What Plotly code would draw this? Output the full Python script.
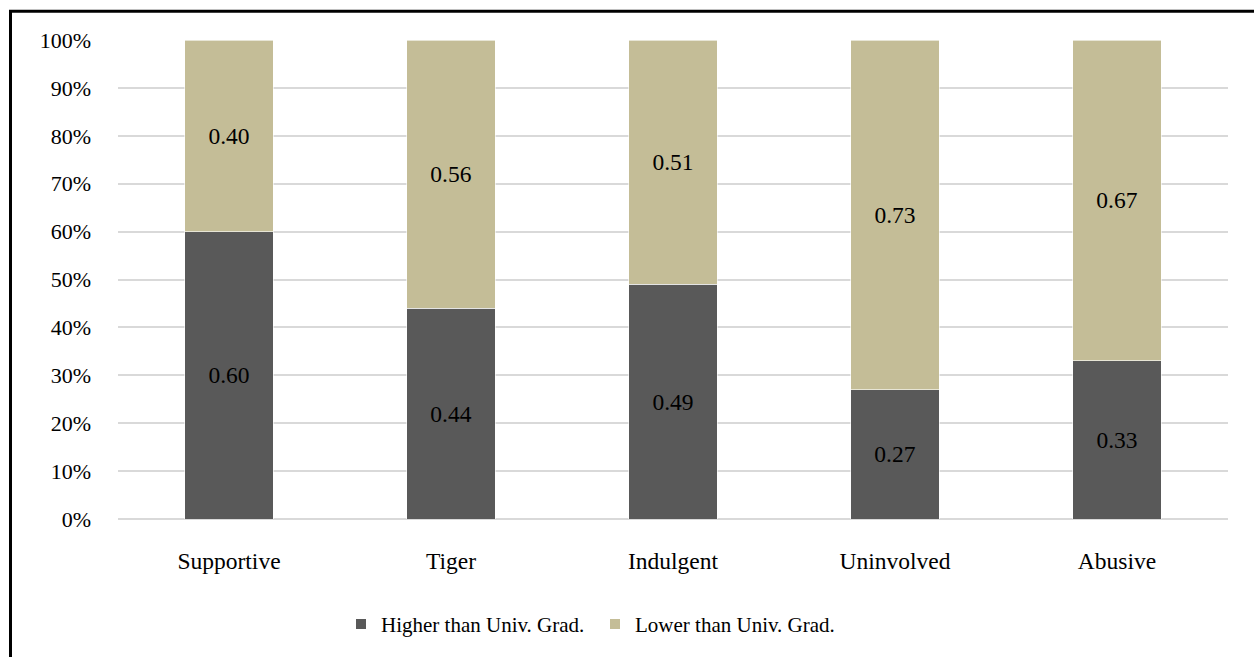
import plotly.graph_objects as go

# Parenting styles and share of parents by education level
categories = ["Supportive", "Tiger", "Indulgent", "Uninvolved", "Abusive"]
higher_than_grad = [0.60, 0.44, 0.49, 0.27, 0.33]
lower_than_grad = [0.40, 0.56, 0.51, 0.73, 0.67]
y_ticks = [0.0, 0.1, 0.2, 0.3, 0.4, 0.5, 0.6, 0.7, 0.8, 0.9, 1.0]

FONT = "Liberation Serif, Times New Roman, serif"
W, H = 1254, 657
L, R, T, B = 118, 26, 40, 135
PW, PH = W - L - R, H - T - B


def px_x(x):
    return (x - L) / PW


def px_y(y):
    return (H - B - y) / PH


fig = go.Figure()
fig.add_trace(go.Bar(
    x=categories, y=higher_than_grad, name="Higher than Univ. Grad.",
    marker=dict(color="#595959", line=dict(color="#ffffff", width=0.6)),
    text=[f"{v:.2f}" for v in higher_than_grad],
    textposition="inside", insidetextanchor="middle", textangle=0,
    textfont=dict(family=FONT, size=23.5, color="#000000"),
))
fig.add_trace(go.Bar(
    x=categories, y=lower_than_grad, name="Lower than Univ. Grad.",
    marker=dict(color="#c4bd97", line=dict(color="#ffffff", width=0.6)),
    text=[f"{v:.2f}" for v in lower_than_grad],
    textposition="inside", insidetextanchor="middle", textangle=0,
    textfont=dict(family=FONT, size=23.5, color="#000000"),
))

# Outer frame lines (left and top)
frame = dict(color="#000000", width=3)
fig.add_shape(type="line", xref="paper", yref="paper",
              x0=px_x(10.5), x1=px_x(10.5), y0=px_y(11), y1=px_y(H + 5), line=frame)
fig.add_shape(type="line", xref="paper", yref="paper",
              x0=px_x(9), x1=px_x(W + 5), y0=px_y(11), y1=px_y(11), line=frame)

fig.update_layout(
    width=W, height=H,
    margin=dict(l=L, r=R, t=T, b=B),
    paper_bgcolor="#ffffff", plot_bgcolor="#ffffff",
    barmode="stack", bargap=0.6,
    font=dict(family=FONT, size=22, color="#000000"),
    showlegend=True,
    legend=dict(orientation="h", x=px_x(341), xanchor="left",
                y=px_y(628), yanchor="middle",
                entrywidth=209, entrywidthmode="pixels",
                font=dict(family=FONT, size=21, color="#000000"),
                itemsizing="constant", traceorder="normal"),
)
fig.update_xaxes(showline=False, ticks="", ticklabelstandoff=25,
                 tickfont=dict(family=FONT, size=23.5, color="#000000"))
fig.update_yaxes(range=[0, 1], tickvals=y_ticks, tickformat=".0%",
                 showgrid=True, gridcolor="#d9d9d9", gridwidth=1.5,
                 zeroline=True, zerolinecolor="#d9d9d9", zerolinewidth=1.5,
                 ticks="", ticklabelstandoff=26,
                 tickfont=dict(family=FONT, size=22, color="#000000"))

fig.write_html("out.html")
